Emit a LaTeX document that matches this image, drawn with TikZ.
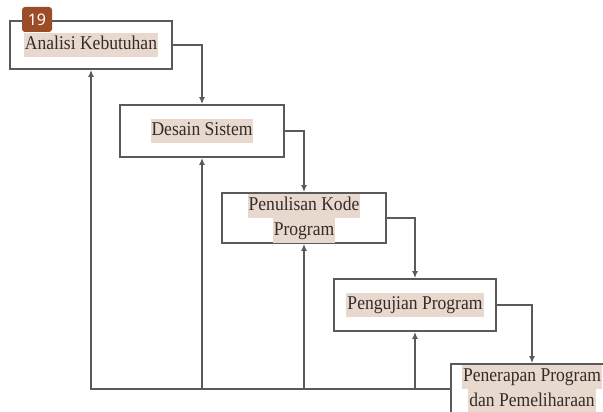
\documentclass[tikz,border=0pt]{standalone}
\usepackage{fontspec}
\setmainfont{Liberation Serif}[FakeStretch=0.9]
\newfontfamily\badgefont{Noto Sans}
\usetikzlibrary{arrows.meta}
\definecolor{hlc}{RGB}{232,216,206}
\definecolor{txc}{RGB}{50,44,42}
\definecolor{lnc}{RGB}{90,90,90}
\definecolor{bdg}{RGB}{156,76,38}
\newcommand\hlt[1]{{\setlength{\fboxsep}{0pt}\colorbox{hlc}{\strut\kern1pt #1\kern1pt}}}
\tikzset{
  stepbox/.style={draw=lnc, line width=1.8pt, rectangle, inner sep=0pt,
    text=txc, align=center, font=\fontsize{19.5}{24.5}\selectfont},
  conn/.style={draw=lnc, line width=1.8pt, -{Latex[length=7pt,width=6pt]}},
  badge/.style={fill=bdg, rounded corners=3pt, minimum width=30pt, minimum height=25pt,
    inner sep=0pt, text=white, font=\badgefont\fontsize{16}{16}\selectfont}
}
\begin{document}
\begin{tikzpicture}[x=1pt,y=-1pt]
\clip (0,0) rectangle (603,412);
\fill[white] (0,0) rectangle (603,412);
\node[stepbox, minimum width=162pt, minimum height=48pt] (b1) at (91,45) {\hlt{Analisi Kebutuhan}};
\node[stepbox, minimum width=164pt, minimum height=52pt] (b2) at (202,131) {\hlt{Desain Sistem}};
\node[stepbox, minimum width=164pt, minimum height=50pt] (b3) at (304,218) {\hlt{Penulisan Kode}\\\hlt{Program}};
\node[stepbox, minimum width=162pt, minimum height=52pt] (b4) at (415,305) {\hlt{Pengujian Program}};
\node[stepbox, minimum width=162pt, minimum height=50pt] (b5) at (532,389) {\hlt{Penerapan Program}\\\hlt{dan Pemeliharaan}};
\node[badge] (b0) at (37,19.5) {19};
\draw[conn] (b1.east) -| (b2.north);
\draw[conn] (b2.east) -| (b3.north);
\draw[conn] (b3.east) -| (b4.north);
\draw[conn] (b4.east) -| (b5.north);
\draw[conn] (b5.west) -| (b1.south);
\draw[conn] (b2.south |- b5.west) -- (b2.south);
\draw[conn] (b3.south |- b5.west) -- (b3.south);
\draw[conn] (b4.south |- b5.west) -- (b4.south);
\end{tikzpicture}
\end{document}
